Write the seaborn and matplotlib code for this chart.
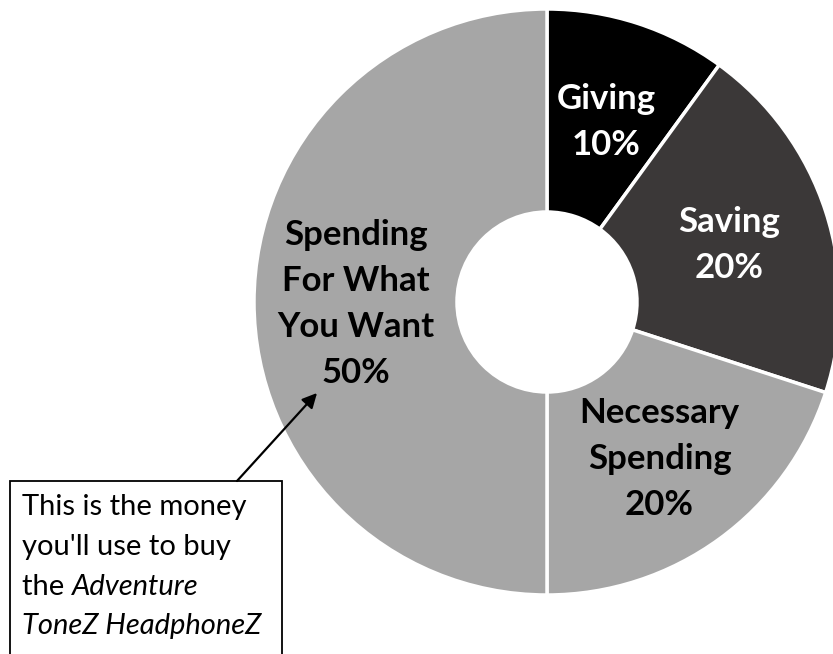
import numpy as np
import matplotlib
matplotlib.use("Agg")
import matplotlib.pyplot as plt
import seaborn as sns

# ---- data ----
categories = ["Giving", "Saving", "Necessary\nSpending", "Spending\nFor What\nYou Want"]
values = [10, 20, 20, 50]
colors = ["#000000", "#3b3838", "#a6a6a6", "#a6a6a6"]
label_colors = ["white", "white", "black", "black"]
note_lines = ["This is the money", "you'll use to buy"]
note_plain = "the "
note_italic_1 = "Adventure"
note_italic_2 = "ToneZ HeadphoneZ"

sns.set_theme(style="white")
FONT = ["Lato", "DejaVu Sans"]
plt.rcParams["font.family"] = FONT

W, H = 833, 654
fig = plt.figure(figsize=(W / 100, H / 100), dpi=100)
ax = fig.add_axes([0, 0, 1, 1])

cx, cy = 547, H - 302
R_out, R_in = 293, 90

wedges, _ = ax.pie(values, colors=colors, startangle=90, counterclock=False,
                   radius=R_out, center=(cx, cy),
                   wedgeprops=dict(width=R_out - R_in, edgecolor="white", linewidth=2.5))
ax.set_xlim(0, W)
ax.set_ylim(0, H)
ax.set_aspect("equal")
ax.axis("off")

r_lab = (R_out + R_in) / 2
for w, lab, v, tc in zip(wedges, categories, values, label_colors):
    ang = np.deg2rad((w.theta1 + w.theta2) / 2)
    x = cx + r_lab * np.cos(ang)
    y = cy + r_lab * np.sin(ang) - 2
    ax.text(x, y, f"{lab}\n{v}%", ha="center", va="center", color=tc,
            fontsize=25, fontweight="bold", linespacing=1.55)

# ---- annotation box ----
bx0, btop = 10, H - 481
box = plt.Rectangle((bx0, -10), 282 - bx0, btop + 10, fill=False,
                    edgecolor="black", linewidth=1.3, zorder=5)
ax.add_patch(box)
ax.annotate("", xy=(317, H - 393), xytext=(237, H - 481),
            arrowprops=dict(arrowstyle="-|>", mutation_scale=22, lw=1.6,
                            color="black", shrinkA=0, shrinkB=0), zorder=6)

fs = 21
tx = 22
line_y = [507, 547, 587, 626]
for ln, yy in zip(note_lines, line_y[:2]):
    ax.text(tx, H - yy, ln, ha="left", va="center", fontsize=fs, color="black")
t_the = ax.text(tx, H - line_y[2], note_plain, ha="left", va="center",
                fontsize=fs, color="black")
fig.canvas.draw()
bb = t_the.get_window_extent(renderer=fig.canvas.get_renderer())
x_after = ax.transData.inverted().transform((bb.x1, bb.y0))[0]
ax.text(x_after, H - line_y[2], note_italic_1, ha="left", va="center",
        fontsize=fs, style="italic", color="black")
ax.text(tx, H - line_y[3], note_italic_2, ha="left", va="center",
        fontsize=fs, style="italic", color="black")

fig.savefig("out.png", dpi=100, facecolor="white")
